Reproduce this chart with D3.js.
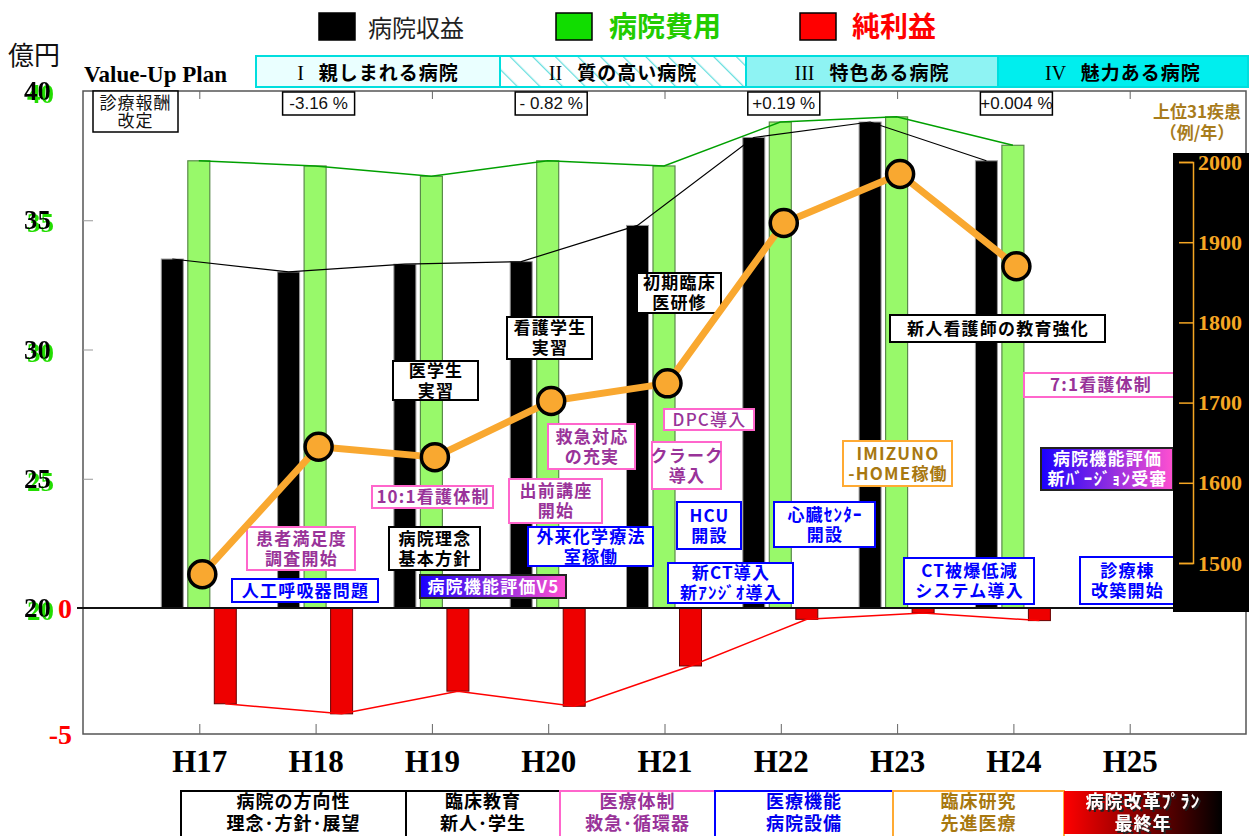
<!DOCTYPE html>
<html><head><meta charset="utf-8">
<script src="https://cdn.jsdelivr.net/npm/d3@7"></script>
<style>
html,body{margin:0;padding:0;background:#fff;}
svg{display:block;}
</style></head><body>
<svg id="c" width="1256" height="836"></svg>
<script>
// ---------------- data ----------------
const categories = ["H17","H18","H19","H20","H21","H22","H23","H24","H25"];
const revenue    = [33.5, 33.0, 33.3, 33.4, 34.8, 38.2, 38.8, 37.3, null];   // 病院収益 (億円)
const expense    = [37.3, 37.1, 36.7, 37.3, 37.1, 38.8, 39.0, 37.9, null];   // 病院費用 (億円)
const netProfit  = [-3.8, -4.2, -3.3, -3.9, -2.3, -0.45, -0.2, -0.5, null];  // 純利益 (億円)
const topCases   = [1486, 1645, 1632, 1702, 1724, 1924, 1985, 1870, null];   // 上位31疾患 (例/年)
const leftTicks  = [20, 25, 30, 35, 40];
const rightTicks = [1500, 1600, 1700, 1800, 1900, 2000];
const netTicks   = [0, -5];
const legendLabels = ["病院収益", "病院費用", "純利益"];
const planNumerals = ["I", "II", "III", "IV"];
const planLabels   = ["親しまれる病院", "質の高い病院", "特色ある病院", "魅力ある病院"];
const revisionYears = ["H18", "H20", "H22", "H24"];
const revisionRates = ["-3.16 %", "- 0.82 %", "+0.19 %", "+0.004 %"];
const themeLabels = [
  ["病院の方向性", "理念･方針･展望"],
  ["臨床教育", "新人･学生"],
  ["医療体制", "救急･循環器"],
  ["医療機能", "病院設備"],
  ["臨床研究", "先進医療"],
  ["病院改革ﾌﾟﾗﾝ", "最終年"]
];
const eventTexts = [
  ["医学生","実習"], ["10:1看護体制"], ["患者満足度","調査開始"], ["病院理念","基本方針"],
  ["人工呼吸器問題"], ["病院機能評価V5"], ["看護学生","実習"], ["初期臨床","医研修"],
  ["DPC導入"], ["救急対応","の充実"], ["クラーク","導入"], ["出前講座","開始"],
  ["HCU","開設"], ["心臓ｾﾝﾀｰ","開設"], ["外来化学療法","室稼働"], ["新CT導入","新ｱﾝｼﾞｵ導入"],
  ["新人看護師の教育強化"], ["7:1看護体制"], ["IMIZUNO","-HOME稼働"], ["病院機能評価","新ﾊﾞｰｼﾞｮﾝ受審"],
  ["CT被爆低減","システム導入"], ["診療棟","改築開始"]
];

// ---------------- layout (not data) ----------------
const eventLayout = [
  {x:393,y:361,w:85,h:39,k:"black"}, {x:372,y:486,w:121,h:22,k:"pink"},
  {x:247,y:527,w:108,h:43,k:"pink"}, {x:389,y:527,w:91,h:43,k:"black"},
  {x:232,y:579,w:146,h:23,k:"blue"}, {x:420,y:575,w:146,h:23,k:"grad"},
  {x:507,y:317,w:85,h:42,k:"black"}, {x:637,y:273,w:84,h:40,k:"black"},
  {x:664,y:409,w:90,h:21,k:"pink",wt:500}, {x:548,y:424,w:87,h:45,k:"pink"},
  {x:652,y:442,w:69,h:47,k:"pink"}, {x:509,y:479,w:93,h:44,k:"pink"},
  {x:677,y:502,w:64,h:47,k:"blue"}, {x:774,y:502,w:101,h:45,k:"blue"},
  {x:528,y:527,w:125,h:39,k:"blue"}, {x:668,y:563,w:125,h:40,k:"blue"},
  {x:890,y:315,w:215,h:27,k:"black"}, {x:1024,y:373,w:153,h:24,k:"pink"},
  {x:843,y:441,w:109,h:45,k:"orange"}, {x:1041,y:448,w:132,h:42,k:"grad"},
  {x:904,y:558,w:130,h:46,k:"blue"}, {x:1080,y:557,w:94,h:47,k:"blue"}
];
const kinds = {
  black:{stroke:"#000",fill:"#fff",text:"#000"},
  pink:{stroke:"#ff66cc",fill:"#fff",text:"#993399"},
  blue:{stroke:"#0000ff",fill:"#fff",text:"#0000ff"},
  orange:{stroke:"#ffaa33",fill:"#fff",text:"#a87810"},
  grad:{stroke:"#222",fill:"url(#gradBP)",text:"#fff"}
};

const JP = "'Noto Sans CJK JP','Noto Sans',sans-serif";
const SERIF = "'Liberation Serif','DejaVu Serif',serif";
const SANS = "'Liberation Sans','DejaVu Sans',sans-serif";

const svg = d3.select("#c");
const defs = svg.append("defs");
const gBP = defs.append("linearGradient").attr("id","gradBP").attr("x1",0).attr("x2",1).attr("y1",0).attr("y2",0);
gBP.append("stop").attr("offset",0).attr("stop-color","#1a00ff");
gBP.append("stop").attr("offset",0.5).attr("stop-color","#8a2be2");
gBP.append("stop").attr("offset",1).attr("stop-color","#ff50d0");
const gRK = defs.append("linearGradient").attr("id","gradRK").attr("x1",0).attr("x2",1).attr("y1",0).attr("y2",0);
gRK.append("stop").attr("offset",0).attr("stop-color","#ff0000");
gRK.append("stop").attr("offset",1).attr("stop-color","#000000");
const hatch = defs.append("pattern").attr("id","hatch").attr("patternUnits","userSpaceOnUse")
  .attr("width",16).attr("height",16).attr("patternTransform","rotate(-45)");
hatch.append("rect").attr("width",16).attr("height",16).attr("fill","#fff");
hatch.append("line").attr("x1",0).attr("y1",0).attr("x2",0).attr("y2",16).attr("stroke","#66dede").attr("stroke-width",2.5);
defs.append("filter").attr("id","greenShadow").attr("x","-20%").attr("y","-20%").attr("width","140%").attr("height","140%")
  .append("feDropShadow").attr("dx",3).attr("dy",3).attr("stdDeviation",0).attr("flood-color","#22dd00").attr("flood-opacity",1);
defs.append("filter").attr("id","darkShadow").attr("x","-20%").attr("y","-20%").attr("width","140%").attr("height","140%")
  .append("feDropShadow").attr("dx",2).attr("dy",2).attr("stdDeviation",0.3).attr("flood-color","#222").attr("flood-opacity",1);

// ---------------- scales ----------------
const L = 83, R = 1246, T = 91, Z = 608, B = 734;
const xLin = d3.scaleLinear().domain([0, 10]).range([L, R]);
const x = d3.scalePoint().domain(categories).range([xLin(1), xLin(9)]);
const sub = d3.scaleBand().domain(["rev","exp","net"]).range([-38, 37]).paddingInner(0.17);
const bw = sub.bandwidth();
const yL = d3.scaleLinear().domain([20, 40]).range([Z, T]);
const yN = d3.scaleLinear().domain([-5, 0]).range([B, Z]);
const yR = d3.scaleLinear().domain([1500, 2000]).range([563, 162]);

const rows = categories.map((c, i) => ({c, rev: revenue[i], exp: expense[i], net: netProfit[i], cases: topCases[i]}));

// multi-line text helper (one <text>, several tspans)
function multiText(parent, lines, cx, firstBaseline, lh) {
  const t = parent.append("text").attr("x", cx).attr("y", firstBaseline).attr("text-anchor", "middle");
  lines.forEach((s, j) => t.append("tspan").attr("x", cx).attr("dy", j === 0 ? 0 : lh).text(s));
  return t;
}

// ---------------- legend ----------------
const legColors = ["#000", "#11dd00", "#ff0000"];
const legText = ["#222", "#22cc00", "#ff0000"];
const legX = [319, 556, 800];
const legTX = [368, 609, 852];
legendLabels.forEach((t, i) => {
  svg.append("rect").attr("x", legX[i]).attr("y", 13).attr("width", 36).attr("height", 27)
    .attr("fill", legColors[i]).attr("stroke", "#000").attr("stroke-width", 1.5);
  svg.append("text").attr("x", legTX[i]).attr("y", 37).text(t)
    .attr("font-family", JP).attr("font-size", i === 0 ? 24 : 28)
    .attr("font-weight", i === 0 ? 400 : 700).attr("fill", legText[i]);
});

svg.append("text").attr("x", 8).attr("y", 65).text("億円").attr("font-family", JP).attr("font-size", 26).attr("fill", "#111");
svg.append("text").attr("x", 84).attr("y", 82).text("Value-Up Plan").attr("font-family", SERIF)
  .attr("font-size", 23).attr("font-weight", 700).attr("fill", "#000");

// plan band
const bandX = [256, 500, 746, 998, 1248];
const bandFill = ["#eaffff", "url(#hatch)", "#8ef3f3", "#00eeee"];
planLabels.forEach((t, i) => {
  svg.append("rect").attr("x", bandX[i]).attr("y", 56).attr("width", bandX[i+1] - bandX[i]).attr("height", 31)
    .attr("fill", bandFill[i]).attr("stroke", "#00dede").attr("stroke-width", 2);
  const tx = svg.append("text").attr("x", (bandX[i] + bandX[i+1]) / 2).attr("y", 80).attr("text-anchor", "middle")
    .attr("xml:space", "preserve");
  tx.append("tspan").text(planNumerals[i] + "   ").attr("font-family", SERIF).attr("font-size", 20).attr("fill", "#000");
  tx.append("tspan").text(planLabels[i]).attr("font-family", JP).attr("font-weight", 700).attr("font-size", 19)
    .attr("letter-spacing", 1).attr("fill", "#000");
});

// ---------------- frame & axes ----------------
svg.append("rect").attr("x", L).attr("y", T).attr("width", R - L).attr("height", B - T)
  .attr("fill", "#fff").attr("stroke", "#555").attr("stroke-width", 1.5);

svg.append("g").attr("transform", `translate(${L},0)`)
  .call(d3.axisLeft(yL).tickValues(leftTicks.slice(1, -1)).tickSize(-10).tickFormat(""))
  .call(g => g.select(".domain").remove())
  .selectAll("line").attr("stroke", "#999");

svg.append("g").attr("transform", `translate(0,${B})`)
  .call(d3.axisBottom(x).tickSizeInner(-10).tickSizeOuter(0).tickPadding(0))
  .call(g => g.select(".domain").remove())
  .call(g => g.selectAll("line").attr("stroke", "#666"))
  .call(g => g.selectAll("text").attr("dy", null).attr("y", 38)
      .attr("font-family", SERIF).attr("font-weight", 700).attr("font-size", 31).attr("fill", "#000"));

svg.append("g").attr("transform", `translate(0,${T})`)
  .call(d3.axisTop(x).tickValues(categories.filter((d, i) => i % 2 === 0)).tickSize(-8).tickFormat(""))
  .call(g => g.select(".domain").remove())
  .selectAll("line").attr("stroke", "#666");

// left labels (black with green offset shadow)
leftTicks.forEach(v => {
  svg.append("text").attr("x", 51).attr("y", yL(v) + 9).attr("text-anchor", "end").text(v)
    .attr("font-family", SERIF).attr("font-weight", 700).attr("font-size", 27).attr("fill", "#000")
    .attr("filter", "url(#greenShadow)");
});
netTicks.forEach(v => {
  svg.append("text").attr("x", 72).attr("y", yN(v) + 10).attr("text-anchor", "end").text(v === 0 ? "0" : String(v))
    .attr("font-family", SERIF).attr("font-weight", 700).attr("font-size", 28).attr("fill", "#ff0000");
});

// percent boxes & 診療報酬改定
svg.append("rect").attr("x", 93).attr("y", 91).attr("width", 85).attr("height", 41).attr("fill", "#fff").attr("stroke", "#000").attr("stroke-width", 1.5);
multiText(svg, ["診療報酬", "改定"], 135.5, 109, 18)
  .attr("font-family", JP).attr("font-size", 17).attr("letter-spacing", 1).attr("fill", "#111");
revisionYears.forEach((c, i) => {
  const cx = x(c) + 3;
  svg.append("rect").attr("x", cx - 36).attr("y", 92).attr("width", 72).attr("height", 23)
    .attr("fill", "#fff").attr("stroke", "#000").attr("stroke-width", 1.5);
  svg.append("text").attr("x", cx).attr("y", 109).attr("text-anchor", "middle").text(revisionRates[i])
    .attr("font-family", SANS).attr("font-size", 17).attr("fill", "#111");
});

// ---------------- bars ----------------
const valid = rows.filter(d => d.rev != null);
svg.append("g").selectAll("rect").data(valid).join("rect")
  .attr("x", d => x(d.c) + sub("rev")).attr("y", d => yL(d.rev))
  .attr("width", bw).attr("height", d => Z - yL(d.rev))
  .attr("fill", "#000").attr("stroke", "#999").attr("stroke-width", 1);
svg.append("g").selectAll("rect").data(valid).join("rect")
  .attr("x", d => x(d.c) + sub("exp")).attr("y", d => yL(d.exp))
  .attr("width", bw).attr("height", d => Z - yL(d.exp))
  .attr("fill", "#98f96a").attr("stroke", "#5a8a4a").attr("stroke-width", 1.2);
svg.append("g").selectAll("rect").data(valid).join("rect")
  .attr("x", d => x(d.c) + sub("net")).attr("y", Z)
  .attr("width", bw).attr("height", d => yN(d.net) - Z)
  .attr("fill", "#ee0000").attr("stroke", "#660000").attr("stroke-width", 1);

// lines
svg.append("path").datum(valid).attr("fill", "none").attr("stroke", "#000").attr("stroke-width", 1.2)
  .attr("d", d3.line().x(d => x(d.c) + sub("rev") + bw / 2).y(d => yL(d.rev)));
svg.append("path").datum(valid).attr("fill", "none").attr("stroke", "#00a000").attr("stroke-width", 1.5)
  .attr("d", d3.line().x(d => x(d.c) + sub("exp") + bw / 2).y(d => yL(d.exp)));
svg.append("path").datum(valid).attr("fill", "none").attr("stroke", "#ff0000").attr("stroke-width", 1.5)
  .attr("d", d3.line().x(d => x(d.c) + sub("net") + bw / 2).y(d => yN(d.net)));

// ---------------- event boxes ----------------
function noteBox(lines, lay) {
  const k = kinds[lay.k];
  const g = svg.append("g");
  g.append("rect").attr("x", lay.x).attr("y", lay.y).attr("width", lay.w).attr("height", lay.h)
    .attr("fill", k.fill).attr("stroke", k.stroke).attr("stroke-width", 2);
  const lh = 20, fs = 17;
  const first = lay.y + lay.h / 2 - (lines.length - 1) / 2 * lh + fs * 0.37;
  multiText(g, lines, lay.x + lay.w / 2 + 0.5, first, lh)
    .attr("font-family", JP).attr("font-weight", lay.wt || 700).attr("font-size", fs)
    .attr("letter-spacing", 1.2).attr("fill", k.text);
}
eventTexts.forEach((t, i) => noteBox(t, eventLayout[i]));

// zero line
svg.append("line").attr("x1", 77).attr("x2", 1173).attr("y1", Z).attr("y2", Z).attr("stroke", "#111").attr("stroke-width", 2);

// ---------------- orange line (right axis) ----------------
svg.append("path").datum(valid).attr("fill", "none").attr("stroke", "#f9a830").attr("stroke-width", 7)
  .attr("stroke-linejoin", "round")
  .attr("d", d3.line().x(d => x(d.c) + 3).y(d => yR(d.cases)));
svg.append("g").selectAll("circle").data(valid).join("circle")
  .attr("cx", d => x(d.c) + 3).attr("cy", d => yR(d.cases)).attr("r", 13.5)
  .attr("fill", "#f9a830").attr("stroke", "#000").attr("stroke-width", 3.5);

// right axis
svg.append("rect").attr("x", 1173).attr("y", 153).attr("width", 76).attr("height", 459).attr("fill", "#000");
svg.append("g").attr("transform", "translate(1193,0)")
  .call(d3.axisRight(yR).tickValues(rightTicks).tickSizeInner(-14).tickSizeOuter(-14).tickPadding(5).tickFormat(d3.format("d")))
  .call(g => g.selectAll("line,path").attr("stroke", "#f5a623").attr("stroke-width", 1.5))
  .call(g => g.selectAll("text").attr("font-family", SERIF).attr("font-weight", 700).attr("font-size", 22).attr("fill", "#f5a623"));
multiText(svg, ["上位31疾患", "（例/年）"], 1197, 118, 21)
  .attr("font-family", JP).attr("font-weight", 700).attr("font-size", 17).attr("fill", "#a87c1c");

// ---------------- bottom theme boxes ----------------
const themeX = [181, 406, 560, 715, 893, 1064, 1222];
const themeStroke = ["#000", "#000", "#ff66cc", "#0000ff", "#ffaa33", "none"];
const themeText = ["#000", "#000", "#993399", "#0000ee", "#a87810", "#fff"];
themeLabels.forEach((lines, i) => {
  const x0 = themeX[i], x1 = themeX[i + 1];
  if (i === 5) {
    svg.append("rect").attr("x", x0).attr("y", 791).attr("width", x1 - x0).attr("height", 43).attr("fill", "url(#gradRK)");
  } else {
    svg.append("rect").attr("x", x0).attr("y", 791).attr("width", x1 - x0).attr("height", 60)
      .attr("fill", "#fff").attr("stroke", themeStroke[i]).attr("stroke-width", 2);
  }
  const tx = multiText(svg, lines, (x0 + x1) / 2, 808, 22)
    .attr("font-family", JP).attr("font-weight", 700).attr("font-size", 18).attr("letter-spacing", 1)
    .attr("fill", themeText[i]);
  if (i === 5) tx.attr("filter", "url(#darkShadow)");
});
</script>
</body></html>
